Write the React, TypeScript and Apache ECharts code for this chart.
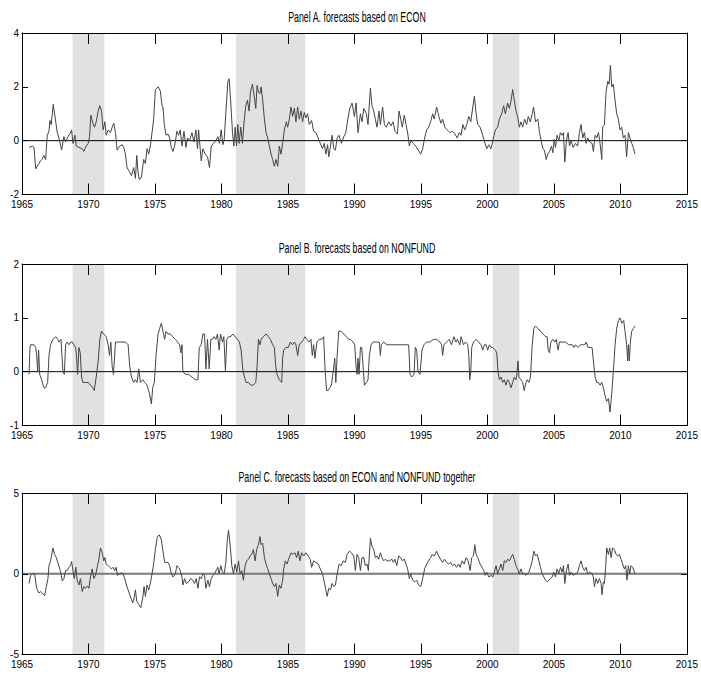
import React, { useEffect, useRef } from "react";
import * as echarts from "echarts";

// Recession / shaded periods (start year, end year)
const shadedPeriods: [number, number][] = [
  [1968.8, 1971.2],
  [1981.1, 1986.3],
  [2000.4, 2002.4],
];

const xTicks = { min: 1965, max: 2015, interval: 5 };

const titles = [
  "Panel A. forecasts based on ECON",
  "Panel B. forecasts based on NONFUND",
  "Panel C. forecasts based on ECON and NONFUND together",
];

const yRanges: [number, number, number][] = [
  [-2, 4, 2],
  [-1, 2, 1],
  [-5, 5, 5],
];

// Panel A: ECON
const econ: [number, number][] = [
  [1965.53,-0.25],[1965.78,-0.2],[1965.9,-0.25],[1966.03,-1.05],[1966.2,-0.9],[1966.4,-0.75],[1966.5,-0.7],[1966.65,-0.55],[1966.78,-0.7],[1966.9,0.2],[1967.03,0.35],[1967.1,0.75],[1967.2,0.6],[1967.35,1.35],[1967.48,0.9],[1967.65,0.3],[1967.78,0.1],[1967.98,-0.35],[1968.15,0.15],[1968.28,-0.05],[1968.45,0.15],[1968.6,0.25],[1968.73,0.4],[1968.83,-0.1],[1968.98,0.2],[1969.08,-0.2],[1969.28,-0.25],[1969.53,-0.3],[1969.65,-0.4],[1969.83,-0.2],[1969.98,-0.1],[1970.08,0.15],[1970.18,0.95],[1970.33,0.65],[1970.45,0.5],[1970.58,0.7],[1970.73,1.1],[1970.85,1.3],[1970.98,1.1],[1971.1,0.4],[1971.23,0.7],[1971.33,0.2],[1971.48,0.4],[1971.65,0.3],[1971.78,0.5],[1971.9,0.65],[1972.03,0.3],[1972.15,-0.35],[1972.33,-0.2],[1972.53,-0.15],[1972.65,-0.25],[1972.78,-0.5],[1972.9,-1.0],[1973.08,-1.15],[1973.23,-1.3],[1973.4,-1.0],[1973.53,-1.4],[1973.63,-0.55],[1973.73,-1.2],[1973.83,-1.45],[1973.98,-1.35],[1974.15,-0.7],[1974.28,-0.85],[1974.4,-0.3],[1974.53,-0.5],[1974.65,-0.2],[1974.78,0.3],[1974.9,0.8],[1975.03,1.9],[1975.23,2.0],[1975.4,1.85],[1975.53,1.3],[1975.6,1.25],[1975.7,0.6],[1975.83,0.2],[1975.98,0.25],[1976.1,0.1],[1976.23,-0.25],[1976.35,-0.4],[1976.48,-0.2],[1976.65,0.35],[1976.78,0.2],[1976.9,0.4],[1977.03,-0.2],[1977.18,0.35],[1977.33,-0.25],[1977.45,0.1],[1977.6,0.0],[1977.78,0.3],[1977.93,-0.05],[1978.08,0.4],[1978.2,-0.3],[1978.28,0.4],[1978.4,-0.3],[1978.48,-0.75],[1978.6,-0.3],[1978.78,-0.5],[1978.95,-0.6],[1979.1,-1.0],[1979.23,-0.2],[1979.4,-0.1],[1979.58,0.0],[1979.73,0.15],[1979.85,-0.1],[1979.98,0.4],[1980.1,-0.15],[1980.2,0.0],[1980.35,1.2],[1980.48,2.2],[1980.58,2.3],[1980.7,1.4],[1980.83,0.3],[1980.93,-0.2],[1981.03,0.5],[1981.13,-0.2],[1981.23,0.6],[1981.33,-0.1],[1981.45,0.5],[1981.58,-0.1],[1981.7,0.7],[1981.83,1.3],[1981.95,1.5],[1982.08,1.1],[1982.18,1.8],[1982.33,2.1],[1982.45,1.7],[1982.58,1.2],[1982.68,2.05],[1982.78,1.8],[1982.9,1.75],
  [1982.98,2.0],[1983.1,1.5],[1983.23,0.8],[1983.35,0.3],[1983.48,0.1],[1983.6,-0.2],[1983.73,-0.5],[1983.85,-0.7],[1983.98,-0.95],[1984.1,-0.7],[1984.23,-0.95],[1984.35,-0.2],[1984.48,-0.5],[1984.6,-0.1],[1984.73,0.4],[1984.88,0.7],[1984.98,0.5],[1985.1,0.8],[1985.23,1.25],[1985.35,0.9],[1985.48,1.2],[1985.6,0.7],[1985.73,1.25],[1985.85,0.8],[1985.98,1.1],[1986.1,0.7],[1986.23,1.05],[1986.35,0.85],[1986.48,1.0],[1986.6,0.6],[1986.78,0.75],[1986.93,0.35],[1987.1,0.3],[1987.28,0.1],[1987.43,-0.1],[1987.6,-0.3],[1987.73,-0.1],[1987.85,-0.5],[1987.98,-0.15],
  [1988.07,-0.6],[1988.2,-0.2],[1988.32,0.2],[1988.45,-0.3],[1988.57,-0.35],[1988.7,0.1],[1988.85,0.2],[1989.02,-0.1],[1989.2,0.15],[1989.35,0.3],[1989.5,0.8],[1989.65,1.2],[1989.82,1.4],[1990.0,0.9],[1990.12,1.4],[1990.27,0.3],[1990.45,1.0],[1990.57,0.7],[1990.7,1.2],[1990.9,1.0],[1991.02,0.6],[1991.2,1.95],[1991.32,1.3],[1991.45,1.1],[1991.57,0.8],[1991.7,0.5],[1991.85,1.1],[1991.95,0.6],[1992.12,1.25],[1992.25,0.6],[1992.4,0.5],[1992.57,0.7],[1992.75,0.55],[1992.9,0.7],
  [1993.05,0.35],[1993.23,0.25],[1993.35,1.1],[1993.48,0.8],[1993.6,0.5],[1993.75,0.95],[1993.88,0.6],[1994.03,0.2],[1994.13,-0.2],[1994.25,0.0],[1994.43,-0.1],[1994.6,-0.2],[1994.8,-0.35],[1994.98,-0.5],[1995.13,-0.3],[1995.28,0.1],[1995.43,0.4],[1995.58,0.5],[1995.73,0.7],[1995.88,1.0],[1996.0,0.8],[1996.18,1.25],[1996.35,0.9],[1996.5,0.65],[1996.63,0.8],[1996.8,0.5],[1996.98,0.4],[1997.18,0.3],[1997.35,0.35],[1997.55,0.25],[1997.73,0.1],[1997.88,0.3],
  [1998.02,0.2],[1998.15,0.6],[1998.3,0.4],[1998.45,0.6],[1998.6,0.9],[1998.75,0.7],[1998.9,1.25],[1999.02,1.65],[1999.15,1.0],[1999.27,0.6],[1999.45,0.5],[1999.65,0.2],[1999.82,-0.1],[1999.95,-0.3],[2000.1,-0.15],[2000.27,-0.3],[2000.45,0.1],[2000.6,0.4],[2000.77,0.5],[2000.9,0.8],[2001.07,1.0],[2001.22,1.3],[2001.35,1.0],[2001.52,1.4],[2001.65,1.2],[2001.77,1.45],[2001.9,1.9],[2002.02,1.5],[2002.15,1.1],[2002.27,0.9],[2002.4,0.5],[2002.52,0.7],[2002.65,0.5],[2002.8,0.8],[2002.95,0.6],
  [2003.07,0.9],[2003.22,0.7],[2003.37,1.0],[2003.47,1.25],[2003.62,0.7],[2003.79,0.8],[2003.92,0.3],[2004.04,0.0],[2004.17,-0.3],[2004.29,-0.35],[2004.42,-0.7],[2004.54,-0.5],[2004.67,-0.4],[2004.82,-0.2],[2004.92,-0.45],[2005.02,0.05],[2005.12,-0.25],[2005.24,0.2],[2005.37,0.0],[2005.49,0.3],[2005.62,0.2],[2005.72,0.3],[2005.82,-0.8],[2005.94,0.0],[2006.07,0.3],[2006.17,-0.2],[2006.29,0.0],[2006.44,-0.25],[2006.62,-0.1],[2006.79,-0.2],[2006.92,0.3],[2007.04,0.6],[2007.17,0.1],[2007.29,0.3],[2007.42,-0.1],[2007.54,0.1],[2007.69,-0.05],[2007.87,-0.1],
  [2007.97,-0.4],[2008.1,0.2],[2008.22,0.1],[2008.35,0.3],[2008.47,-0.1],[2008.6,-0.7],[2008.67,0.5],[2008.8,0.6],[2008.92,1.8],[2009.05,2.2],[2009.15,2.1],[2009.25,2.8],[2009.35,2.0],[2009.47,2.1],[2009.6,1.5],[2009.72,1.0],[2009.85,0.8],[2009.97,0.4],[2010.1,0.5],[2010.22,0.1],[2010.35,0.2],[2010.47,-0.6],[2010.6,0.3],[2010.72,0.1],[2010.85,-0.1],[2010.97,-0.25],[2011.1,-0.5],
];

// Panel B: NONFUND
const nonfund: [number, number][] = [
  [1965.53,-0.05],[1965.6,0.45],[1965.65,0.5],[1965.9,0.5],[1966.03,0.45],[1966.1,0.3],[1966.18,0.0],[1966.25,0.4],[1966.33,-0.05],[1966.48,-0.15],[1966.65,-0.3],[1966.78,-0.3],[1966.93,-0.2],[1967.03,0.3],[1967.15,0.5],[1967.33,0.6],[1967.53,0.65],[1967.68,0.6],[1967.78,0.55],[1967.93,0.6],[1968.08,0.0],[1968.18,-0.05],[1968.28,0.5],[1968.4,0.55],[1968.53,0.5],[1968.65,0.55],[1968.78,0.55],[1968.9,0.5],[1969.03,0.45],[1969.1,0.3],[1969.18,-0.05],[1969.28,0.45],[1969.38,0.35],[1969.48,-0.1],[1969.58,-0.2],[1969.78,-0.2],[1969.98,-0.2],[1970.15,-0.25],[1970.33,-0.3],[1970.43,-0.35],[1970.58,-0.1],[1970.73,0.2],[1970.85,0.6],[1970.98,0.75],[1971.15,0.7],[1971.33,0.65],[1971.48,0.5],[1971.58,0.3],[1971.68,0.55],[1971.78,0.1],[1971.88,-0.05],[1972.03,0.55],[1972.28,0.55],[1972.53,0.55],[1972.78,0.55],[1972.98,0.5],[1973.1,0.1],[1973.23,-0.1],[1973.4,-0.2],[1973.53,-0.15],[1973.65,-0.2],[1973.78,0.05],[1973.9,-0.2],[1974.08,-0.15],[1974.23,-0.2],[1974.4,-0.25],[1974.58,-0.4],[1974.73,-0.6],[1974.83,-0.3],[1974.95,-0.2],[1975.08,0.3],[1975.23,0.7],[1975.35,0.8],[1975.48,0.9],[1975.6,0.75],[1975.73,0.6],[1975.83,0.75],[1975.98,0.7],[1976.15,0.7],[1976.33,0.65],[1976.53,0.6],[1976.7,0.55],[1976.85,0.5],[1976.95,0.35],[1977.03,0.5],[1977.1,0.0],[1977.28,-0.05],[1977.53,-0.05],[1977.78,-0.1],[1978.03,-0.15],[1978.23,-0.15],[1978.33,0.45],[1978.48,0.5],[1978.6,0.7],[1978.73,0.7],[1978.83,0.05],[1978.95,0.6],[1979.08,0.05],[1979.2,0.6],[1979.33,0.6],[1979.45,0.65],[1979.58,0.6],[1979.7,0.7],[1979.83,0.4],[1979.93,0.7],[1980.08,0.55],[1980.18,0.65],[1980.3,0.0],[1980.4,0.6],[1980.53,0.65],[1980.7,0.65],[1980.85,0.7],[1981.03,0.65],[1981.2,0.6],[1981.35,0.55],[1981.48,0.4],[1981.6,0.05],[1981.73,-0.1],[1981.85,-0.2],[1982.03,-0.2],[1982.2,-0.25],[1982.4,-0.25],[1982.58,-0.2],[1982.68,0.1],[1982.78,0.6],[1982.9,0.5],
  [1982.98,0.6],[1983.15,0.65],[1983.35,0.7],[1983.53,0.65],[1983.68,0.6],[1983.85,0.5],[1983.98,0.45],[1984.08,0.1],[1984.18,-0.05],[1984.35,-0.15],[1984.53,-0.2],[1984.6,0.25],[1984.68,0.4],[1984.85,0.45],[1985.03,0.45],[1985.18,0.55],[1985.35,0.5],[1985.48,0.55],[1985.6,0.5],[1985.73,0.3],[1985.85,0.5],[1986.03,0.55],[1986.18,0.6],[1986.28,0.65],[1986.43,0.6],[1986.6,0.55],[1986.73,0.6],[1986.83,0.3],[1986.93,0.5],[1987.03,0.25],[1987.18,0.55],[1987.35,0.6],[1987.53,0.6],[1987.68,0.65],[1987.78,0.1],[1987.9,-0.35],
  [1988.02,-0.35],[1988.15,-0.3],[1988.27,-0.25],[1988.4,0.0],[1988.52,0.25],[1988.6,-0.2],[1988.7,0.3],[1988.82,0.75],[1989.0,0.75],[1989.2,0.7],[1989.4,0.65],[1989.57,0.6],[1989.7,0.6],[1989.9,0.55],[1990.02,0.5],[1990.12,0.1],[1990.2,-0.05],[1990.27,0.25],[1990.35,-0.05],[1990.45,0.45],[1990.55,0.45],[1990.65,0.1],[1990.75,-0.25],[1990.9,-0.2],[1991.02,-0.15],[1991.12,0.3],[1991.25,0.5],[1991.4,0.55],[1991.57,0.55],[1991.75,0.55],[1991.87,0.55],[1991.95,0.3],[1992.02,0.5],[1992.2,0.55],[1992.45,0.5],[1992.7,0.5],[1992.95,0.5],
  [1993.18,0.5],[1993.43,0.5],[1993.68,0.5],[1993.93,0.5],[1994.08,0.5],[1994.18,-0.05],[1994.3,-0.1],[1994.48,-0.05],[1994.58,0.45],[1994.68,0.4],[1994.78,0.0],[1994.93,-0.05],[1995.08,0.4],[1995.23,0.5],[1995.43,0.55],[1995.68,0.55],[1995.93,0.6],[1996.18,0.6],[1996.43,0.55],[1996.55,0.5],[1996.63,0.3],[1996.73,0.5],[1996.93,0.55],[1997.13,0.6],[1997.3,0.5],[1997.48,0.65],[1997.63,0.55],[1997.75,0.6],[1997.93,0.5],
  [1998.02,0.65],[1998.2,0.5],[1998.35,0.55],[1998.52,0.5],[1998.6,0.3],[1998.67,-0.15],[1998.75,0.0],[1998.82,0.45],[1998.95,0.55],[1999.15,0.6],[1999.35,0.55],[1999.52,0.5],[1999.65,0.4],[1999.77,0.5],[1999.9,0.5],[2000.02,0.4],[2000.15,0.5],[2000.27,0.45],[2000.4,0.45],[2000.6,0.4],[2000.7,0.35],[2000.8,0.0],[2000.9,-0.15],[2001.02,-0.1],[2001.15,-0.2],[2001.27,-0.15],[2001.4,-0.25],[2001.52,-0.15],[2001.65,-0.2],[2001.77,-0.3],[2001.9,-0.2],[2002.02,-0.1],[2002.15,-0.15],[2002.22,-0.05],[2002.3,0.2],[2002.37,-0.1],[2002.52,-0.15],[2002.65,-0.2],[2002.77,-0.35],[2002.9,-0.2],
  [2002.99,-0.15],[2003.12,-0.2],[2003.24,-0.1],[2003.37,0.5],[2003.49,0.8],[2003.62,0.85],[2003.82,0.8],[2003.99,0.75],[2004.17,0.7],[2004.37,0.65],[2004.49,0.65],[2004.57,0.4],[2004.67,0.35],[2004.77,0.55],[2004.92,0.6],[2005.07,0.55],[2005.17,0.6],[2005.32,0.4],[2005.42,0.55],[2005.62,0.55],[2005.87,0.55],[2006.12,0.5],[2006.37,0.5],[2006.52,0.45],[2006.62,0.5],[2006.82,0.45],[2006.99,0.5],[2007.17,0.5],[2007.32,0.5],[2007.42,0.55],[2007.57,0.45],[2007.74,0.45],[2007.87,0.45],
  [2007.97,0.2],[2008.1,-0.1],[2008.22,-0.2],[2008.35,-0.2],[2008.47,-0.25],[2008.6,-0.2],[2008.72,-0.3],[2008.85,-0.45],[2008.97,-0.55],[2009.1,-0.5],[2009.22,-0.75],[2009.35,-0.4],[2009.47,0.0],[2009.6,0.5],[2009.72,0.8],[2009.85,0.95],[2009.97,1.0],[2010.1,0.9],[2010.25,0.95],[2010.35,0.75],[2010.47,0.5],[2010.55,0.2],[2010.6,0.5],[2010.67,0.2],[2010.75,0.55],[2010.85,0.75],[2010.97,0.8],[2011.1,0.85],
];

// Panel C: ECON and NONFUND together
const together: [number, number][] = [
  [1965.53,-0.6],[1965.65,-0.1],[1965.78,0.0],[1965.95,0.0],[1966.08,-0.8],[1966.15,-1.0],[1966.28,-1.2],[1966.4,-1.1],[1966.53,-1.2],[1966.7,-1.35],[1966.83,-0.8],[1966.95,-0.3],[1967.03,0.5],[1967.15,0.8],[1967.33,1.6],[1967.45,1.2],[1967.58,1.0],[1967.73,0.6],[1967.88,0.2],[1968.03,-0.45],[1968.15,-0.3],[1968.28,0.2],[1968.4,0.2],[1968.53,0.4],[1968.65,0.5],[1968.73,0.75],[1968.83,0.2],[1968.93,-0.3],[1969.05,0.4],[1969.15,-0.4],[1969.28,-0.7],[1969.4,-0.3],[1969.53,-1.1],[1969.65,-0.8],[1969.78,-0.9],[1969.93,-0.75],[1970.03,-0.9],[1970.15,-0.2],[1970.28,0.3],[1970.4,-0.3],[1970.53,-0.1],[1970.68,0.5],[1970.78,0.9],[1970.9,1.6],[1971.03,1.3],[1971.15,0.8],[1971.23,1.0],[1971.33,0.6],[1971.48,0.5],[1971.6,0.4],[1971.73,0.3],[1971.85,0.4],[1971.98,0.2],[1972.08,0.4],[1972.18,-0.1],[1972.33,0.0],[1972.48,0.05],[1972.6,0.0],[1972.73,-0.3],[1972.85,-0.7],[1972.98,-1.0],[1973.1,-1.3],[1973.23,-1.6],[1973.33,-1.8],[1973.43,-1.5],[1973.53,-1.0],[1973.63,-1.7],[1973.78,-1.9],[1973.93,-2.1],[1974.08,-1.5],[1974.18,-0.8],[1974.28,-1.4],[1974.4,-0.7],[1974.53,-1.0],[1974.65,-0.6],[1974.78,0.0],[1974.9,0.6],[1975.03,1.5],[1975.18,2.3],[1975.33,2.4],[1975.48,2.1],[1975.6,1.4],[1975.73,0.7],[1975.85,0.7],[1975.98,0.7],[1976.1,0.5],[1976.23,0.0],[1976.35,-0.2],[1976.53,0.0],[1976.65,0.5],[1976.78,0.4],[1976.9,0.2],[1977.03,-0.2],[1977.1,-0.7],[1977.23,-0.3],[1977.35,-0.6],[1977.53,-0.5],[1977.7,-0.3],[1977.85,-0.4],[1977.98,-0.6],[1978.1,-0.3],[1978.23,-0.9],[1978.35,-0.2],[1978.48,-0.3],[1978.6,0.0],[1978.73,-0.1],[1978.83,-0.9],[1978.98,-0.4],[1979.1,-0.8],[1979.23,-0.3],[1979.35,-0.1],[1979.48,0.0],[1979.6,0.2],[1979.73,0.4],[1979.83,0.0],[1979.95,0.5],[1980.08,0.1],[1980.2,0.0],[1980.33,0.7],[1980.43,2.0],[1980.53,2.7],[1980.65,1.8],[1980.78,0.5],[1980.9,0.0],[1981.03,0.6],[1981.15,0.1],[1981.28,0.8],[1981.4,0.0],[1981.53,0.2],[1981.65,-0.4],[1981.78,0.5],[1981.9,0.8],[1982.03,0.9],[1982.15,1.1],[1982.28,1.2],[1982.4,1.5],[1982.53,0.8],[1982.65,1.5],[1982.78,1.8],[1982.9,2.3],
  [1982.98,1.8],[1983.1,1.9],[1983.23,1.0],[1983.35,0.6],[1983.48,0.3],[1983.6,0.0],[1983.73,-0.3],[1983.85,-0.6],[1983.98,-0.8],[1984.1,-0.6],[1984.23,-1.4],[1984.35,-0.7],[1984.48,-0.9],[1984.6,-0.4],[1984.68,0.3],[1984.8,0.8],[1984.93,0.6],[1985.05,0.9],[1985.23,1.3],[1985.38,1.2],[1985.53,1.3],[1985.65,1.0],[1985.78,1.4],[1985.9,0.8],[1986.03,1.3],[1986.18,1.1],[1986.35,1.3],[1986.53,1.1],[1986.68,0.9],[1986.78,0.4],[1986.93,0.8],[1987.1,0.7],[1987.28,0.6],[1987.43,0.3],[1987.6,0.0],[1987.73,-0.5],[1987.85,-1.0],
  [1987.95,-1.4],[1988.07,-0.9],[1988.2,-1.0],[1988.32,-0.6],[1988.45,-0.8],[1988.57,-0.7],[1988.7,0.0],[1988.85,0.6],[1989.0,0.5],[1989.15,0.8],[1989.32,0.7],[1989.45,1.2],[1989.62,1.4],[1989.77,1.3],[1989.95,1.1],[1990.07,0.2],[1990.2,1.2],[1990.32,1.0],[1990.45,0.2],[1990.57,1.0],[1990.7,1.0],[1990.82,0.5],[1990.95,0.6],[1991.05,0.2],[1991.2,2.2],[1991.32,1.7],[1991.45,1.5],[1991.57,1.0],[1991.7,1.1],[1991.82,0.9],[1991.95,1.3],[1992.07,1.0],[1992.2,0.8],[1992.32,0.9],[1992.45,0.8],[1992.65,0.8],[1992.82,0.9],
  [1992.93,0.7],[1993.05,0.9],[1993.18,0.5],[1993.33,1.1],[1993.48,1.0],[1993.6,0.8],[1993.75,0.9],[1993.88,0.6],[1994.0,0.3],[1994.13,-0.3],[1994.23,0.0],[1994.38,-0.4],[1994.53,-0.5],[1994.68,-0.4],[1994.83,-0.7],[1994.98,-0.8],[1995.13,-0.3],[1995.28,0.3],[1995.43,0.6],[1995.58,0.8],[1995.73,1.0],[1995.85,1.2],[1996.0,1.1],[1996.18,1.4],[1996.33,1.1],[1996.48,0.9],[1996.63,0.7],[1996.78,0.9],[1996.93,0.7],[1997.08,0.6],[1997.23,0.7],[1997.38,0.5],[1997.53,0.6],[1997.68,0.4],[1997.83,0.6],
  [1997.95,0.4],[1998.1,0.8],[1998.25,0.6],[1998.4,1.0],[1998.55,0.8],[1998.7,0.2],[1998.82,1.0],[1998.95,1.1],[1999.05,1.8],[1999.15,1.2],[1999.27,1.0],[1999.45,0.6],[1999.6,0.4],[1999.72,0.2],[1999.82,-0.1],[1999.95,0.1],[2000.1,-0.2],[2000.27,-0.1],[2000.4,-0.2],[2000.52,0.1],[2000.65,0.5],[2000.77,0.0],[2000.9,0.3],[2001.02,0.6],[2001.15,0.2],[2001.27,0.8],[2001.4,0.7],[2001.52,0.9],[2001.65,0.8],[2001.77,1.0],[2001.9,1.2],[2002.02,0.9],[2002.15,0.5],[2002.27,0.3],[2002.4,0.0],[2002.52,0.3],[2002.65,0.0],[2002.77,0.0],[2002.9,-0.1],
  [2002.99,0.0],[2003.12,0.1],[2003.24,0.4],[2003.37,0.8],[2003.49,1.4],[2003.62,1.1],[2003.74,1.2],[2003.87,0.8],[2003.99,0.4],[2004.12,0.0],[2004.24,-0.2],[2004.37,-0.4],[2004.49,-0.5],[2004.62,-0.4],[2004.74,-0.3],[2004.87,-0.2],[2004.99,0.1],[2005.12,-0.2],[2005.24,0.3],[2005.37,0.0],[2005.49,0.4],[2005.62,0.1],[2005.72,0.5],[2005.82,-0.6],[2005.94,0.2],[2006.07,0.6],[2006.17,-0.1],[2006.29,0.1],[2006.44,-0.1],[2006.62,0.0],[2006.79,0.1],[2006.92,0.5],[2007.04,0.8],[2007.17,0.4],[2007.29,0.2],[2007.42,0.4],[2007.54,0.0],[2007.69,0.1],[2007.87,0.0],
  [2007.97,-0.2],[2008.05,-0.8],[2008.17,-0.3],[2008.3,-0.6],[2008.42,-0.3],[2008.55,-0.6],[2008.62,-1.3],[2008.72,-0.5],[2008.8,-0.6],[2008.9,0.5],[2008.97,1.6],[2009.1,1.2],[2009.2,1.6],[2009.3,1.0],[2009.42,1.6],[2009.55,1.5],[2009.67,1.2],[2009.8,1.1],[2009.92,1.2],[2010.05,0.9],[2010.17,0.6],[2010.3,0.3],[2010.4,0.5],[2010.5,-0.4],[2010.6,0.5],[2010.7,0.0],[2010.8,0.5],[2010.92,0.4],[2011.1,0.0],
];

const seriesData = [econ, nonfund, together];

// Layout (pixels)
const gridTops = [33, 264, 493];
const gridHeight = 161.5;
const gridLeft = 22;
const gridRight = 9;
const zeroStyles = [
  { color: "#000000", width: 1 },
  { color: "#000000", width: 1 },
  { color: "#7a7a7a", width: 2 },
];

const FONT = "'Liberation Sans', Arial, sans-serif";

export default function App() {
  const ref = useRef<HTMLDivElement>(null);

  useEffect(() => {
    if (!ref.current) return;
    const chart = echarts.init(ref.current, undefined, { renderer: "svg" });

    const grid: any[] = [];
    const xAxis: any[] = [];
    const yAxis: any[] = [];
    const series: any[] = [];
    const graphic: any[] = [];

    seriesData.forEach((data, i) => {
      const [yMin, yMax, yInt] = yRanges[i];
      grid.push({
        left: gridLeft,
        right: gridRight,
        top: gridTops[i],
        height: gridHeight,
        containLabel: false,
        show: false,
      });
      const axisLine = { show: true, onZero: false, lineStyle: { color: "#000", width: 1 } };
      const common = {
        type: "value",
        gridIndex: i,
        z: 10,
        splitLine: { show: false },
        axisLine,
      };
      // bottom x
      xAxis.push({
        ...common,
        position: "bottom",
        min: xTicks.min,
        max: xTicks.max,
        interval: xTicks.interval,
        axisTick: { show: true, inside: true, length: 11, lineStyle: { color: "#000" } },
        axisLabel: {
          show: true,
          margin: 5,
          fontSize: 10,
          lineHeight: 10,
          fontFamily: FONT,
          color: "#000",
          formatter: (v: number) => String(v),
        },
      });
      // top x
      xAxis.push({
        ...common,
        position: "top",
        min: xTicks.min,
        max: xTicks.max,
        interval: xTicks.interval,
        axisTick: { show: true, inside: true, length: 11, lineStyle: { color: "#000" } },
        axisLabel: { show: false },
      });
      // left y
      yAxis.push({
        ...common,
        position: "left",
        min: yMin,
        max: yMax,
        interval: yInt,
        axisTick: { show: true, inside: true, length: 6, lineStyle: { color: "#000" } },
        axisLabel: {
          show: true,
          margin: 3,
          fontSize: 10,
          lineHeight: 9,
          fontFamily: FONT,
          color: "#000",
          formatter: (v: number) => String(v),
        },
      });
      // right y
      yAxis.push({
        ...common,
        position: "right",
        min: yMin,
        max: yMax,
        interval: yInt,
        axisTick: { show: true, inside: true, length: 6, lineStyle: { color: "#000" } },
        axisLabel: { show: false },
      });

      const xi = i * 2;
      const yi = i * 2;

      // shaded periods (carrier series, invisible line)
      series.push({
        type: "line",
        xAxisIndex: xi,
        yAxisIndex: yi,
        z: 1,
        silent: true,
        symbol: "none",
        lineStyle: { opacity: 0 },
        data: [
          [xTicks.min, 0],
          [xTicks.max, 0],
        ],
        markArea: {
          silent: true,
          itemStyle: { color: "#e1e1e1", opacity: 1 },
          label: { show: false },
          data: shadedPeriods.map(([a, b]) => [{ xAxis: a }, { xAxis: b }]),
        },
      });
      // zero line
      series.push({
        type: "line",
        xAxisIndex: xi,
        yAxisIndex: yi,
        z: 2,
        silent: true,
        symbol: "none",
        lineStyle: { color: zeroStyles[i].color, width: zeroStyles[i].width },
        data: [
          [xTicks.min, 0],
          [xTicks.max, 0],
        ],
      });
      // forecast series
      series.push({
        type: "line",
        xAxisIndex: xi,
        yAxisIndex: yi,
        z: 3,
        silent: true,
        symbol: "none",
        showSymbol: false,
        lineStyle: { color: "#444444", width: 1 },
        data,
      });

      graphic.push({
        type: "text",
        x: 357,
        y: gridTops[i] - 16,
        scaleX: 0.63,
        silent: true,
        style: {
          text: titles[i],
          fontSize: 14,
          fontFamily: FONT,
          fill: "#000",
          align: "center",
          verticalAlign: "middle",
        },
      });
    });

    chart.setOption({
      animation: false,
      backgroundColor: "#ffffff",
      grid,
      xAxis,
      yAxis,
      series,
      graphic,
    });

    return () => {
      chart.dispose();
    };
  }, []);

  return (
    <div
      ref={ref}
      style={{ position: "fixed", left: 0, top: 0, width: 701, height: 677, background: "#fff" }}
    />
  );
}
